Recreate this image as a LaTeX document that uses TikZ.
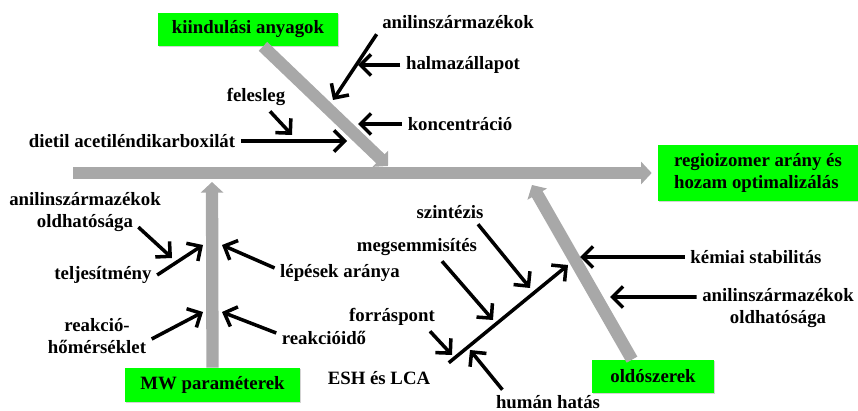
\documentclass[tikz,border=0pt]{standalone}
\usepackage{fontspec}
\setmainfont{Liberation Serif}
\usetikzlibrary{arrows.meta, shadows}
\definecolor{bonegray}{RGB}{168,168,168}
\definecolor{causegreen}{RGB}{0,255,0}

\begin{document}
\begin{tikzpicture}[x=0.02cm, y=-0.02cm,
        font=\bfseries\fontsize{10.7}{12.4}\selectfont,
        cause/.style={fill=causegreen, minimum height=0.66cm, align=center, drop shadow={opacity=0.35, shadow xshift=0.7pt, shadow yshift=-0.7pt}},
        lbl/.style={inner sep=3pt, align=center},
        bone/.style={draw=bonegray, line width=7pt, -{Triangle[length=6pt, width=12.5pt]}},
        arrow/.style={draw=black, line width=2pt, -{Straight Barb[length=6pt, width=12pt]}}
    ]
        \useasboundingbox (0,0) rectangle (858,411);

        \node[cause, minimum width=3.6cm] (kiind) at (248,29.5) {kiindulási anyagok};
        \node[cause, minimum width=4cm, minimum height=1.12cm, align=left] (result) at (758,173) {regioizomer arány és\\hozam optimalizálás};
        \node[cause, minimum width=3.5cm, minimum height=0.68cm] (mw) at (212.5,385) {MW paraméterek};
        \node[cause, minimum width=2.44cm] (oldo) at (653,376.5) {oldószerek};

        % spine and main bones
        \coordinate (tail) at (73,173);
        \coordinate (j-kiind) at (388,166);
        \coordinate (j-mw) at (212,182);
        \coordinate (j-oldo) at (532,185);
        \draw[bone] (tail) -- ([xshift=-0.12cm]result.west);
        \draw[bone] ([xshift=0.3cm]kiind.south) -- (j-kiind);
        \draw[bone] (mw.north) -- (j-mw);
        \draw[bone] ([xshift=-0.42cm]oldo.north) -- (j-oldo);

        \node[lbl] (anilT) at (458,22) {anilinszármazékok};
        \node[lbl] (halm) at (463,65) {halmazállapot};
        \node[lbl] (konc) at (460,124) {koncentráció};
        \node[lbl] (feles) at (256,97) {felesleg};
        \node[lbl] (dietil) at (132,141) {dietil acetiléndikarboxilát};
        \node[lbl] (oldhL) at (85,212) {anilinszármazékok\\oldhatósága};
        \node[lbl] (telj) at (103,275) {teljesítmény};
        \node[lbl] (lepes) at (340,273) {lépések aránya};
        \node[lbl] (homers) at (97,336) {reakció-\\hőmérséklet};
        \node[lbl] (ido) at (324,338) {reakcióidő};
        \node[lbl] (szint) at (450,212) {szintézis};
        \node[lbl] (megs) at (417,247) {megsemmisítés};
        \node[lbl] (forr) at (392,317) {forráspont};
        \node[lbl] (esh) at (379,378) {ESH és LCA};
        \node[lbl] (human) at (548,402) {humán hatás};
        \node[lbl] (kemiai) at (756,257) {kémiai stabilitás};
        \node[lbl] (oldhR) at (778,308) {anilinszármazékok\\oldhatósága};

        % starting materials
        \coordinate (t-anil) at (333,100);
        \coordinate (t-halm) at (358,65);
        \coordinate (t-konc) at (358,124);
        \coordinate (t-feles) at (292,135);
        \coordinate (t-dietil) at (347,141);
        \draw[arrow] (anilT.south west) -- (t-anil);
        \draw[arrow] (halm.west) -- (t-halm);
        \draw[arrow] (konc.west) -- (t-konc);
        \draw[arrow] ([xshift=0.28cm]feles.south) -- (t-feles);
        \draw[arrow] (dietil.east) -- (t-dietil);

        % MW parameters
        \coordinate (t-oldhL) at (172,258);
        \coordinate (t-telj) at (203,245);
        \coordinate (t-lepes) at (222,245);
        \coordinate (t-homers) at (203,312);
        \coordinate (t-ido) at (222,312);
        \draw[arrow] ([shift={(-0.56cm,0.2cm)}]oldhL.south east) -- (t-oldhL);
        \draw[arrow] (telj.east) -- (t-telj);
        \draw[arrow] ([yshift=0.1cm]lepes.west) -- (t-lepes);
        \draw[arrow] ([yshift=-0.06cm]homers.east) -- (t-homers);
        \draw[arrow] ([yshift=0.1cm]ido.west) -- (t-ido);

        % solvents
        \coordinate (j-esh) at (568,265);
        \coordinate (t-szint) at (530,288);
        \coordinate (t-megs) at (493,320);
        \coordinate (t-forr) at (452,355);
        \coordinate (t-human) at (470,350);
        \coordinate (t-kemiai) at (580,257);
        \coordinate (t-oldhR) at (610,297);
        \draw[arrow] ([shift={(0.26cm,0.06cm)}]esh.north east) -- (j-esh);
        \draw[arrow] ([xshift=0.56cm]szint.south) -- (t-szint);
        \draw[arrow] ([xshift=0.5cm]megs.south) -- (t-megs);
        \draw[arrow] ([xshift=0.76cm]forr.south) -- (t-forr);
        \draw[arrow] ([xshift=0.24cm]human.north west) -- (t-human);
        \draw[arrow] (kemiai.west) -- (t-kemiai);
        \draw[arrow] ([yshift=0.22cm]oldhR.west) -- (t-oldhR);
    \end{tikzpicture}
\end{document}
